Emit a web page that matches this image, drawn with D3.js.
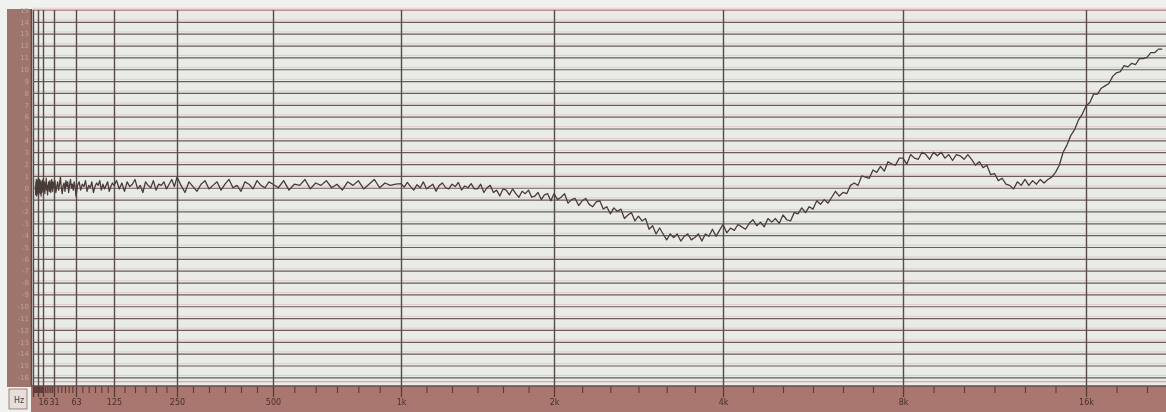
<!DOCTYPE html>
<html>
<head>
<meta charset="utf-8">
<script src="https://cdn.jsdelivr.net/npm/d3@7"></script>
<style>
  html, body { margin: 0; padding: 0; background: #f1f2ef; }
  svg { display: block; }
  text { font-family: "DejaVu Sans", sans-serif; }
</style>
</head>
<body>
<svg id="chart" width="1166" height="412"></svg>
<script>
// ---- Data -------------------------------------------------------------
// Octave lines of the recorder paper (Hz) and their ruler labels
const octaveHz = [3.90625, 7.8125, 15.625, 31.25, 62.5, 125, 250, 500, 1000, 2000, 4000, 8000, 16000, 32000];
const octaveLabels = ["", "", "16", "31", "63", "125", "250", "500", "1k", "2k", "4k", "8k", "16k", ""];

// Level lines (dB), one per row of the paper
const levelTicks = [15, 14, 13, 12, 11, 10, 9, 8, 7, 6, 5, 4, 3, 2, 1, 0,
                    -1, -2, -3, -4, -5, -6, -7, -8, -9, -10, -11, -12, -13, -14, -15, -16];

// Sweep below 1 kHz, read at 1/24-octave steps
const lowBandStartHz = 5.524;
const lowBandStepsPerOctave = 24;
const lowBandLevels = [
  0.2, -0.6, 0.5, -0.4, 0.7, 0.0, -0.7, 0.3, 0.6, -0.3, 0.1, -0.5,
  0.3, 0.8, -0.2, -0.6, 0.2, 0.5, -0.4, 0.0, 0.7, -0.3, 0.1, 0.6, -0.5, 0.2, 0.4, -0.7, 0.1, 0.5, 0.0, -0.4, 0.6, 0.2, -0.2, 0.3,
  0.7, -0.3, 0.1, 0.5, -0.5, 0.0, 0.3, 0.8, -0.2, 0.2, -0.6, 0.1, 0.5, 0.2, -0.3, 0.6, 0.0, -0.4, 0.3, 0.7, 0.1, -0.3, 0.5, 0.0,
  0.2, 0.6, -0.4, 0.1, 0.5, -0.2, 0.3, 0.9, 0.0, -0.5, 0.2, 0.4, -0.3, 0.6, 0.1, 0.5, -0.4, 0.2, 0.7, 0.0, 0.3, -0.2, 0.5, 0.1,
  -0.7, 0.2, 0.5, -0.2, 0.3, 0.1, 0.6, -0.3, 0.2, 0.0, 0.5, -0.4, 0.1, 0.4, 0.2, 0.6, -0.2, 0.3, -0.1, 0.2, 0.5, -0.3, 0.1, 0.4,
  0.2, 0.6, -0.1, 0.4, -0.3, 0.5, 0.1, 0.3, 0.7, -0.1, 0.2, -0.4, 0.5, 0.2, 0.0, 0.6, -0.2, 0.3, 0.2, 0.5, -0.1, 0.3, 0.7, 0.1,
  0.9, 0.2, -0.4, 0.5, 0.1, -0.3, 0.3, 0.6, -0.1, 0.2, 0.5, -0.2, 0.3, 0.7, 0.0, 0.2, -0.3, 0.5, 0.3, -0.1, 0.6, 0.2, 0.0, 0.5,
  0.3, 0.0, 0.6, -0.2, 0.3, 0.2, 0.7, -0.1, 0.4, 0.2, 0.6, 0.0, 0.3, -0.2, 0.5, 0.2, 0.6, -0.1, 0.3, 0.7, 0.0, 0.4, 0.2, 0.3
];

// Sweep from 1 kHz upward, read at 1/48-octave steps
const highBandStartHz = 1000;
const highBandStepsPerOctave = 48;
const highBandLevels = [
  0.35, 0.05, 0.45, 0.1, -0.2, 0.25, 0.0, 0.5, -0.1, 0.1, 0.3, -0.3, 0.2, 0.4, 0.0, -0.1, 0.3, 0.1, 0.45, -0.2, 0.15, 0.0, 0.35, -0.1,
  -0.1, 0.3, -0.4, 0.0, 0.2, -0.4, -0.2, -0.7, -0.1, -0.2, -0.6, -0.1, -0.5, -0.8, -0.3, -0.5, -0.2, -0.8, -0.7, -0.4, -1.0, -0.6, -0.5, -1.1,
  -0.5, -1.0, -0.8, -0.5, -1.3, -1.0, -0.9, -1.5, -1.1, -0.9, -1.4, -1.6, -1.2, -1.1, -1.8, -1.6, -2.2, -1.7, -2.0, -1.8, -2.6, -2.3, -2.1, -2.8,
  -2.4, -2.8, -2.6, -3.5, -3.2, -3.9, -3.4, -3.9, -4.4, -3.9, -4.2, -3.9, -4.5, -4.1, -3.9, -4.4, -4.2, -3.9, -4.5, -3.9, -4.1, -3.5, -4.1, -3.6,
  -3.1, -3.8, -3.4, -3.6, -3.1, -3.3, -3.5, -3.0, -2.7, -3.2, -2.9, -3.3, -2.6, -2.9, -2.6, -3.0, -2.3, -2.7, -2.8, -2.1, -2.2, -1.7, -2.1, -1.6,
  -1.8, -1.1, -1.4, -1.0, -1.3, -0.8, -0.3, -0.7, -0.4, -0.5, 0.2, 0.4, 0.2, 1.0, 0.9, 0.8, 1.5, 1.3, 1.8, 1.4, 2.2, 2.0, 1.9, 2.5,
  2.5, 2.0, 2.8, 2.5, 2.4, 3.0, 2.8, 2.4, 3.0, 2.7, 3.0, 2.5, 2.8, 2.3, 2.8, 2.7, 2.4, 2.8, 2.4, 1.9, 2.2, 1.7, 1.9, 1.1,
  1.2, 0.6, 0.8, 0.3, 0.2, -0.1, 0.5, 0.2, 0.7, 0.2, 0.6, 0.3, 0.7, 0.4, 0.7, 0.9, 1.3, 1.9, 3.0, 3.6, 4.4, 4.9, 5.7, 6.2,
  6.9, 7.2, 7.9, 7.9, 8.4, 8.6, 8.8, 9.4, 9.7, 9.8, 10.3, 10.2, 10.5, 10.4, 10.9, 10.9, 11.0, 11.4, 11.4, 11.7, 11.7
];

// ---- Layout -----------------------------------------------------------
const W = 1166, H = 412;
const stripLeft = 7, plotLeft = 33, plotTop = 10, rowHeight = 11.85, rulerTop = 386;
// printed width of each octave on the sheet, left to right
const octaveWidths = [5, 5, 11, 22, 38, 63, 96, 128, 153, 169, 180, 183, 183];

const colors = {
  paper: "#e9ebe7", grid: "#675d5b", gridV: "#564c4a", pink: "#d7a3a3",
  strip: "#9e746c", ruler: "#a9766f", rulerInk: "#5a3a36", trace: "#4a3b38"
};

// ---- Scales -----------------------------------------------------------
const octaveRange = [plotLeft];
octaveWidths.forEach(w => octaveRange.push(octaveRange[octaveRange.length - 1] + w));
const octX = d3.scaleLinear()
  .domain(octaveHz.map(f => Math.log2(f / 1000)))
  .range(octaveRange);
const x = f => octX(Math.log2(f / 1000));

const plotBottom = plotTop + rowHeight * (levelTicks.length - 1);
const y = d3.scaleLinear()
  .domain([levelTicks[0], levelTicks[levelTicks.length - 1]])
  .range([plotTop, plotBottom]);

// ---- Sweep points -----------------------------------------------------
const sweep = lowBandLevels.map((v, i) => ({ hz: lowBandStartHz * Math.pow(2, i / lowBandStepsPerOctave), db: v }))
  .concat(highBandLevels.map((v, i) => ({ hz: highBandStartHz * Math.pow(2, i / highBandStepsPerOctave), db: v })));

// ---- Drawing ----------------------------------------------------------
const svg = d3.select("#chart");
const defs = svg.append("defs");
defs.append("filter").attr("id", "soft")
  .append("feGaussianBlur").attr("stdDeviation", 0.35);
defs.append("clipPath").attr("id", "plotClip")
  .append("rect").attr("x", plotLeft - 1).attr("y", 0).attr("width", W - plotLeft + 1).attr("height", H);

const root = svg.append("g").attr("filter", "url(#soft)");

// paper
root.append("rect").attr("x", plotLeft - 2).attr("y", plotTop - 1)
  .attr("width", W - plotLeft + 2).attr("height", rulerTop - plotTop + 1)
  .attr("fill", colors.paper);

// level rows: faint red print line just above each dark line
root.append("g").selectAll("line").data(levelTicks).join("line")
  .attr("x1", plotLeft).attr("x2", W)
  .attr("y1", d => y(d) - 1.8).attr("y2", d => y(d) - 1.8)
  .attr("stroke", colors.pink).attr("stroke-width", 1).attr("opacity", 0.45);

const hGrid = root.append("g").attr("transform", `translate(${plotLeft},0)`)
  .call(d3.axisLeft(y).tickValues(levelTicks).tickSize(-(W - plotLeft)).tickFormat(""));
hGrid.select(".domain").remove();
hGrid.selectAll(".tick line").attr("stroke", colors.grid).attr("stroke-width", 1.2);

// red print lines at the top edge and between the last row and the ruler
root.append("line").attr("x1", plotLeft).attr("x2", W)
  .attr("y1", (plotBottom + rulerTop) / 2).attr("y2", (plotBottom + rulerTop) / 2)
  .attr("stroke", colors.pink).attr("stroke-width", 1.2);
root.append("line").attr("x1", plotLeft).attr("x2", W)
  .attr("y1", plotTop).attr("y2", plotTop)
  .attr("stroke", colors.pink).attr("stroke-width", 1.4);

// clipped layer for everything drawn inside the sheet's frequency span
const sheet = root.append("g").attr("clip-path", "url(#plotClip)");

// octave lines
const vGrid = sheet.append("g").attr("transform", `translate(0,${rulerTop})`)
  .call(d3.axisTop(octX).tickValues(octaveHz.map(f => Math.log2(f / 1000))).tickSize(rulerTop - plotTop).tickFormat(""));
vGrid.select(".domain").remove();
vGrid.selectAll(".tick line").attr("stroke", colors.gridV).attr("stroke-width", 1.4);

// recorded trace
sheet.append("path").datum(sweep)
  .attr("fill", "none").attr("stroke", colors.trace).attr("stroke-width", 1.3)
  .attr("stroke-linejoin", "round")
  .attr("d", d3.line().x(d => x(d.hz)).y(d => y(d.db)));

// level strip on the left edge
root.append("rect").attr("x", stripLeft).attr("y", plotTop - 1)
  .attr("width", plotLeft - stripLeft - 2).attr("height", rulerTop - plotTop + 2)
  .attr("fill", colors.strip);
const strip = root.append("g").attr("transform", `translate(${plotLeft - 4},0)`)
  .call(d3.axisLeft(y).tickValues(levelTicks).tickSize(0).tickPadding(0).tickFormat(d => d));
strip.select(".domain").remove();
strip.selectAll("text").attr("fill", "#c29f97").attr("font-size", 7);
root.append("line").attr("x1", plotLeft - 1.5).attr("x2", plotLeft - 1.5)
  .attr("y1", plotTop - 1).attr("y2", rulerTop)
  .attr("stroke", "#5e4a46").attr("stroke-width", 1.5);

// frequency ruler along the bottom
root.append("rect").attr("x", plotLeft - 2).attr("y", rulerTop)
  .attr("width", W - plotLeft + 2).attr("height", H - rulerTop)
  .attr("fill", colors.ruler);
const ruler = root.append("g").attr("clip-path", "url(#plotClip)");
const sixthTicks = d3.range(-48, 27).filter(m => m % 6 !== 0).map(m => m / 6);
const minorAxis = ruler.append("g").attr("transform", `translate(0,${rulerTop})`)
  .call(d3.axisBottom(octX).tickValues(sixthTicks).tickSize(7).tickFormat(""));
minorAxis.select(".domain").remove();
minorAxis.selectAll(".tick line").attr("stroke", colors.rulerInk).attr("stroke-width", 1.1);
const majorAxis = ruler.append("g").attr("transform", `translate(0,${rulerTop})`)
  .call(d3.axisBottom(octX).tickValues(octaveHz.map(f => Math.log2(f / 1000)))
    .tickSize(11).tickPadding(2).tickFormat((d, i) => octaveLabels[i]));
majorAxis.select(".domain").remove();
majorAxis.selectAll(".tick line").attr("stroke", colors.rulerInk).attr("stroke-width", 1.3);
majorAxis.selectAll("text").attr("fill", "#4a2e2b").attr("font-size", 8);
root.append("line").attr("x1", plotLeft - 2).attr("x2", W)
  .attr("y1", rulerTop).attr("y2", rulerTop)
  .attr("stroke", "#6a4c47").attr("stroke-width", 1.6);

// unit box in the corner
root.append("rect").attr("x", stripLeft + 2).attr("y", rulerTop + 3)
  .attr("width", plotLeft - stripLeft - 8).attr("height", H - rulerTop - 6)
  .attr("fill", "#e6dedb").attr("stroke", "#8a6a64").attr("stroke-width", 0.8);
root.append("text").attr("x", (stripLeft + plotLeft) / 2 - 1).attr("y", rulerTop + 17)
  .attr("text-anchor", "middle").attr("font-size", 8).attr("fill", "#4a3a38").text("Hz");
</script>
</body>
</html>
